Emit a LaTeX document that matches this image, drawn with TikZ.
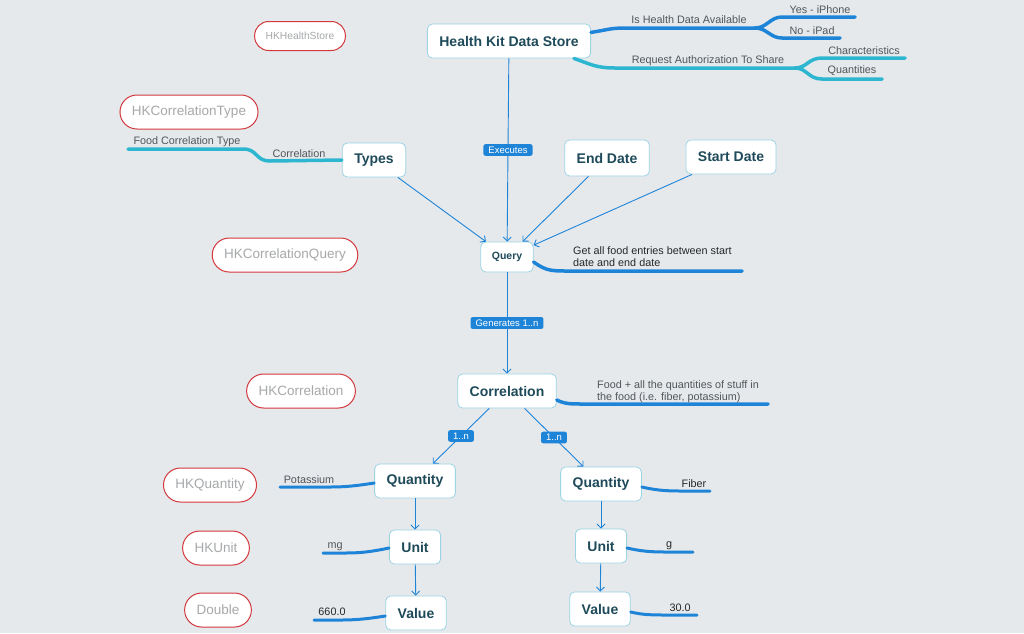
\documentclass[tikz,border=0pt]{standalone}
\usepackage{fontspec}
\setmainfont{Liberation Sans}
\usetikzlibrary{arrows.meta}
\definecolor{bgcol}{HTML}{E6E9EC}
\definecolor{boxline}{HTML}{9CD4E4}
\definecolor{boxtext}{HTML}{1E4A5A}
\definecolor{tagred}{HTML}{D2383D}
\definecolor{taggray}{HTML}{A6A8AA}
\definecolor{mapblue}{HTML}{1E84D8}
\definecolor{mapteal}{HTML}{2DB6CF}
\definecolor{lbltext}{HTML}{50565A}
\tikzset{
        topic/.style={draw=boxline, line width=0.8pt, fill=white, rounded corners=5pt, text=boxtext, font=\bfseries\fontsize{14}{16}\selectfont, inner xsep=12pt, minimum height=34pt},
        hktag/.style={draw=tagred, line width=1pt, fill=white, rounded corners=17pt, text=taggray, font=\fontsize{13.5}{15}\selectfont, inner xsep=12pt, minimum height=34pt},
        flag/.style={fill=mapblue, text=white, rounded corners=2pt, font=\fontsize{9.5}{11}\selectfont, inner xsep=5pt, inner ysep=2.5pt},
        link/.style={draw=mapblue, line width=0.9pt, -{Straight Barb[length=4pt,width=8pt]}},
        branch/.style={line width=3.5pt, line cap=round},
        twig/.style={line width=3pt, line cap=round, mapblue},
        note/.style={text=lbltext, font=\fontsize{10.8}{12.5}\selectfont, inner sep=0pt}
}
\begin{document}
\begin{tikzpicture}[x=1pt, y=-1pt]
        \fill[bgcol] (0,0) rectangle (1024,633);
        \useasboundingbox (0,0) rectangle (1024,633);

        % class names
        \node[hktag, font=\fontsize{10.3}{12}\selectfont, minimum height=29pt, rounded corners=14pt, inner xsep=11pt] (tstore) at (300,36) {HKHealthStore};
        \node[hktag] (tcorrtype) at (189,112) {HKCorrelationType};
        \node[hktag] (tquery) at (285,255) {HKCorrelationQuery};
        \node[hktag] (tcorr) at (301,391) {HKCorrelation};
        \node[hktag] (tqty) at (210,485) {HKQuantity};
        \node[hktag] (tunit) at (216,548) {HKUnit};
        \node[hktag] (tdouble) at (218,610) {Double};

        % topics
        \node[topic] (hk) at (509,41) {Health Kit Data Store};
        \node[topic] (types) at (374,160) {Types};
        \node[topic, minimum height=36pt] (enddate) at (607,158) {End Date};
        \node[topic] (startdate) at (731,157) {Start Date};
        \node[topic, font=\bfseries\fontsize{10.5}{12}\selectfont, minimum height=30pt, inner xsep=11pt] (query) at (507,257) {Query};
        \node[topic] (corr) at (507,391) {Correlation};
        \node[topic] (qtyl) at (415,481) {Quantity};
        \node[topic] (qtyr) at (601,484) {Quantity};
        \node[topic] (unitl) at (415,547) {Unit};
        \node[topic] (unitr) at (601,546) {Unit};
        \node[topic] (valuel) at (416,613) {Value};
        \node[topic] (valuer) at (600,609) {Value};

        % arrows
        \draw[link] (hk) -- node[flag] (fexec) {Executes} (query);
        \draw[link] (types) -- (query);
        \draw[link] (enddate) -- (query);
        \draw[link] (startdate) -- (query);
        \draw[link] (query) -- node[flag] (fgen) {Generates 1..n} (corr);
        \draw[link] (corr) -- node[flag] (fleft) {1..n} (qtyl);
        \draw[link] (corr) -- node[flag] (fright) {1..n} (qtyr);
        \draw[link] (qtyl) -- (unitl);
        \draw[link] (unitl) -- (valuel);
        \draw[link] (qtyr) -- (unitr);
        \draw[link] (unitr) -- (valuer);

        % health kit branches
        \coordinate (avail) at (755,28);
        \coordinate (yes) at (855,17);
        \coordinate (no) at (840,38);
        \draw[branch, mapblue] (hk.6) .. controls (607,30) and (610,28) .. (625,28) -- (avail);
        \draw[branch, mapblue] (avail) .. controls (767,28) and (770,17) .. (782,17) -- (yes);
        \draw[branch, mapblue] (avail) .. controls (767,28) and (770,38) .. (782,38) -- (no);
        \node[note] (availtxt) at (689,20) {Is Health Data Available};
        \node[note] (yestxt) at (820,10) {Yes - iPhone};
        \node[note] (notxt) at (812,31) {No - iPad};

        \coordinate (auth) at (795,68);
        \coordinate (chars) at (905,58);
        \coordinate (qties) at (882,79);
        \draw[branch, mapteal] (hk.-15) .. controls (590,64) and (596,68) .. (615,68) -- (auth);
        \draw[branch, mapteal] (auth) .. controls (807,68) and (808,58) .. (822,58) -- (chars);
        \draw[branch, mapteal] (auth) .. controls (807,68) and (808,79) .. (822,79) -- (qties);
        \node[note] (authtxt) at (708,61) {Request Authorization To Share};
        \node[note] (charstxt) at (864,51) {Characteristics};
        \node[note] (qtiestxt) at (852,71) {Quantities};

        % types branch
        \coordinate (foodtype) at (128,149);
        \draw[branch, mapteal] (types.west) -- (270,161) .. controls (255,161) and (258,149) .. (243,149) -- (foodtype);
        \node[note] (corrtxt) at (299,154) {Correlation};
        \node[note] (foodtxt) at (187,142) {Food Correlation Type};

        % notes
        \coordinate (queryend) at (742,271);
        \draw[twig, line width=3.5pt] (query.east |- 0,262) .. controls (545,270) and (550,271) .. (565,271) -- (queryend);
        \node[note, text=black!85, align=left, anchor=north west] (querytxt) at (573,246) {Get all food entries between start\\date and end date};

        \coordinate (corrend) at (768,404);
        \draw[twig, line width=3.5pt] (corr.east |- 0,400) .. controls (565,404) and (570,404) .. (585,404) -- (corrend);
        \node[note, align=left, anchor=north west] (corrnote) at (597,380) {Food + all the quantities of stuff in\\the food (i.e. fiber, potassium)};

        % values
        \coordinate (potend) at (280,487);
        \coordinate (mgend) at (323,553);
        \coordinate (numlend) at (314,620);
        \coordinate (fibend) at (710,491);
        \coordinate (gend) at (693,552);
        \coordinate (numrend) at (697,615);
        \draw[twig] (qtyl.west |- 0,483) .. controls (355,486) and (345,487) .. (330,487) -- (potend);
        \draw[twig] (unitl.west |- 0,548) .. controls (370,552) and (360,553) .. (345,553) -- (mgend);
        \draw[twig] (valuel.west |- 0,616) .. controls (366,619) and (356,620) .. (340,620) -- (numlend);
        \draw[twig] (qtyr.east |- 0,487) .. controls (655,490) and (665,491) .. (680,491) -- (fibend);
        \draw[twig] (unitr.east |- 0,548) .. controls (640,551) and (650,552) .. (665,552) -- (gend);
        \draw[twig] (valuer.east |- 0,612) .. controls (643,615) and (653,615) .. (668,615) -- (numrend);
        \node[note] (pottxt) at (309,480) {Potassium};
        \node[note] (mgtxt) at (335,547) {mg};
        \node[note, text=black!85] (numltxt) at (332,612) {660.0};
        \node[note, text=black!85] (fibtxt) at (694,484) {Fiber};
        \node[note, text=black!85] (gtxt) at (669,546) {g};
        \node[note, text=black!85] (numrtxt) at (680,608) {30.0};
\end{tikzpicture}
\end{document}
